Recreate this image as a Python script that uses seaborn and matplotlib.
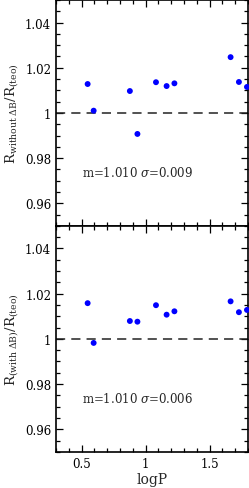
import numpy as np
import pandas as pd
import seaborn as sns
import matplotlib.pyplot as plt
from matplotlib.ticker import MultipleLocator

# data
logp = [0.547, 0.594, 0.877, 0.936, 1.081, 1.164, 1.225, 1.664, 1.729, 1.792]
r_without = [1.0128, 1.0010, 1.0097, 0.9907, 1.0136, 1.0119, 1.0131, 1.0247, 1.0137, 1.0115]
r_with = [1.0158, 0.9982, 1.0079, 1.0076, 1.0149, 1.0107, 1.0122, 1.0166, 1.0118, 1.0128]
stats_labels = [r'm=1.010 $\sigma$=0.009', r'm=1.010 $\sigma$=0.006']
y_labels = [r'$\mathregular{R_{without\ \Delta B}/R_{(teo)}}$',
            r'$\mathregular{R_{(with\ \Delta B)}/R_{(teo)}}$']

sns.set_style("ticks")
plt.rcParams['font.family'] = ['DejaVu Serif']
plt.rcParams['mathtext.fontset'] = 'dejavuserif'

df = pd.DataFrame({'logP': logp, 'without': r_without, 'with': r_with})

fig = plt.figure(figsize=(2.49, 4.89), dpi=100)
ax1 = fig.add_axes([0.225, 0.536, 0.771, 0.462])
ax2 = fig.add_axes([0.225, 0.074, 0.771, 0.462])

for ax, col, txt, lab in zip([ax1, ax2], ['without', 'with'], stats_labels, y_labels):
    sns.scatterplot(data=df, x='logP', y=col, ax=ax, color='#0000ff', s=18,
                    edgecolor='none', clip_on=False, zorder=3)
    ax.axhline(1.0, color='#222222', lw=1.1, ls=(0, (6, 4)))
    ax.set_xlim(0.3, 1.8)
    ax.set_ylim(0.95, 1.05)
    ax.xaxis.set_major_locator(MultipleLocator(0.5))
    ax.xaxis.set_minor_locator(MultipleLocator(0.1))
    ax.yaxis.set_major_locator(MultipleLocator(0.02))
    ax.yaxis.set_minor_locator(MultipleLocator(0.005))
    ax.yaxis.set_major_formatter(plt.FuncFormatter(lambda v, p: '%g' % round(v, 3)))
    ax.xaxis.set_major_formatter(plt.FuncFormatter(lambda v, p: '%g' % round(v, 2)))
    ax.tick_params(which='both', direction='in', top=True, right=True, labelsize=8.5, colors='black')
    ax.tick_params(which='major', length=5, width=0.9)
    ax.tick_params(which='minor', length=2.8, width=0.9)
    for s in ax.spines.values():
        s.set_linewidth(1.2)
        s.set_color('black')
    ax.text(0.5, 0.972, txt, fontsize=8.5)
    ax.set_ylabel(lab, fontsize=9.5, labelpad=4)
    ax.yaxis.set_label_coords(-0.19, 0.5)

ax1.set_xlabel('')
ax1.tick_params(labelbottom=False)
ax2.set_xlabel('logP', fontsize=10, labelpad=2)

fig.savefig('out.png', dpi=100)
